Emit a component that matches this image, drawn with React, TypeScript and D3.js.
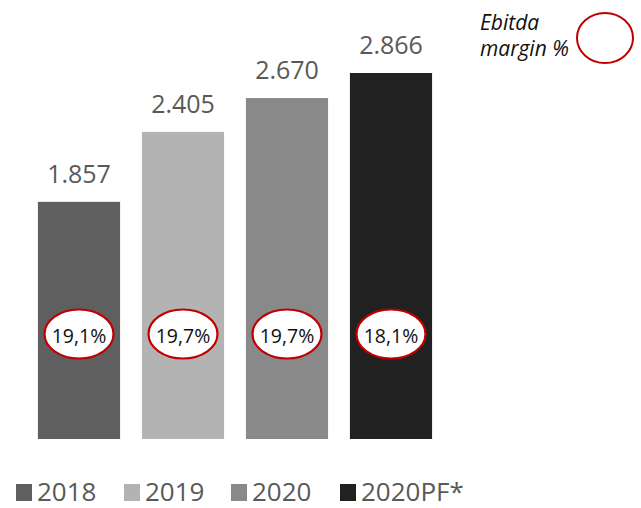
import React from "react";
import * as d3 from "d3";

const categories = ["2018", "2019", "2020", "2020PF*"];
const values = [1857, 2405, 2670, 2866];
const valueLabels = ["1.857", "2.405", "2.670", "2.866"];
const margins = ["19,1%", "19,7%", "19,7%", "18,1%"];
const colors = ["#5f5f5f", "#b3b3b3", "#898989", "#212121"];

const W = 641;
const H = 508;

export default function App() {
  const x = d3
    .scaleBand<string>()
    .domain(categories)
    .range([27, 443])
    .paddingInner(0.21)
    .paddingOuter(0.105);
  const y = d3.scaleLinear().domain([0, 3000]).range([439, 439 - 3000 * 0.1277]);

  const legendX = [16, 124, 231, 340];
  const font = "'Open Sans', 'Liberation Sans', sans-serif";

  return (
    <svg
      width={W}
      height={H}
      style={{ position: "absolute", left: 0, top: 0, background: "#fff" }}
      fontFamily={font}
    >
      {categories.map((c, i) => {
        const bx = x(c)!;
        const bw = x.bandwidth();
        const cx = bx + bw / 2;
        return (
          <g key={c}>
            <rect x={bx} y={y(values[i])} width={bw} height={y(0) - y(values[i])} fill={colors[i]} />
            <text
              x={cx}
              y={y(values[i]) - 19}
              textAnchor="middle"
              fontSize={25}
              fill="#595959"
            >
              {valueLabels[i]}
            </text>
            <ellipse cx={cx} cy={334} rx={34.5} ry={24.5} fill="#fff" stroke="#c00000" strokeWidth={2.2} />
            <text x={cx} y={343} textAnchor="middle" fontSize={19.5} fill="#111">
              {margins[i]}
            </text>
          </g>
        );
      })}

      {categories.map((c, i) => (
        <g key={"lg" + c}>
          <rect x={legendX[i]} y={484} width={16} height={17} fill={colors[i]} />
          <text x={legendX[i] + 21} y={501} fontSize={26} fill="#595959">
            {c}
          </text>
        </g>
      ))}

      <text x={480} y={30} fontSize={21} fontStyle="italic" fill="#111">
        Ebitda
      </text>
      <text x={480} y={56} fontSize={21} fontStyle="italic" fill="#111">
        margin %
      </text>
      <ellipse cx={605} cy={38} rx={28} ry={25} fill="#fff" stroke="#c00000" strokeWidth={2} />
    </svg>
  );
}
